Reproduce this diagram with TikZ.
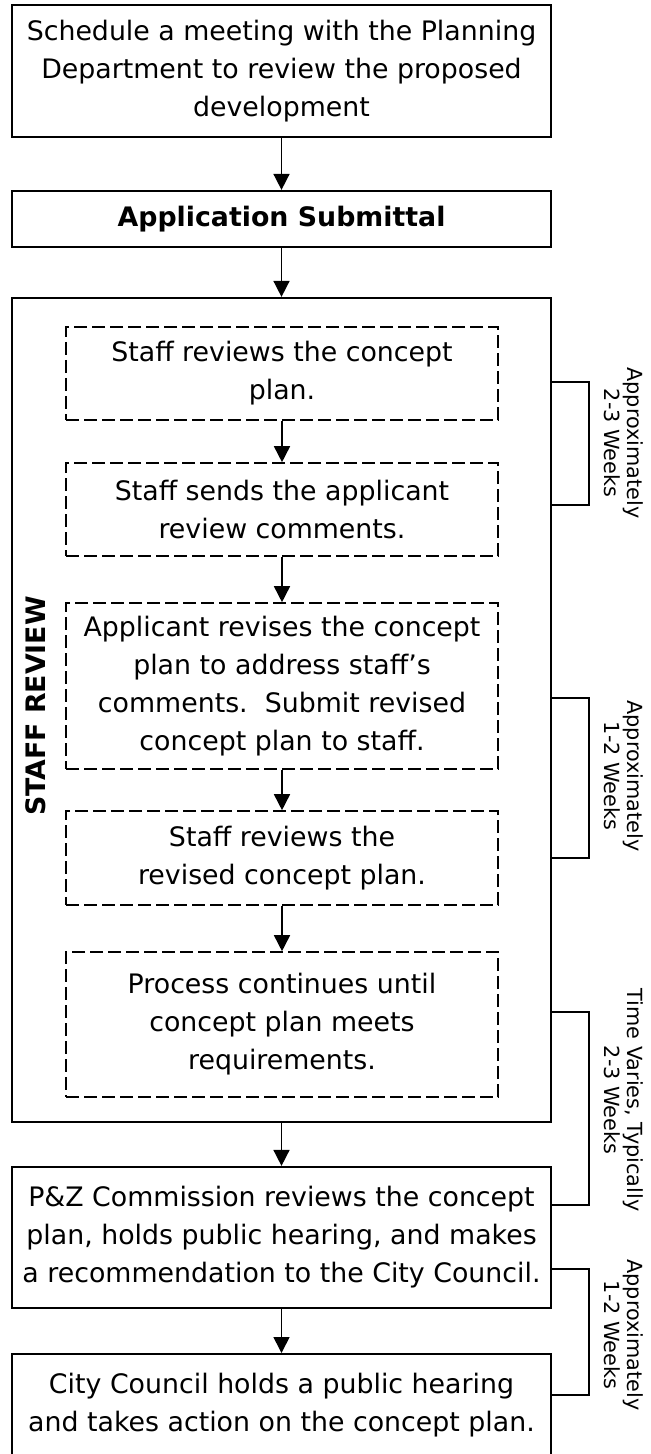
\documentclass[tikz,border=0pt]{standalone}
\usepackage{fontspec}
\setmainfont{DejaVu Sans}
\usetikzlibrary{arrows.meta}
\newcommand{\boxfont}{\fontsize{13.4}{19}\selectfont}
\newcommand{\spanfont}{\fontsize{10.4}{11.5}\selectfont}
\begin{document}
\begin{tikzpicture}[x=0.5pt, y=-0.5pt,
  stepbox/.style={draw, line width=1.1pt, align=center, minimum width=269.5pt, inner xsep=3pt, font=\boxfont},
  subbox/.style={draw, dash pattern=on 6.5pt off 2.5pt, line width=0.8pt, align=center, minimum width=216pt, font=\boxfont},
  flow/.style={-{Triangle[width=8pt,length=8pt]}, line width=0.8pt},
  bracket/.style={line width=1pt},
  span/.style={rotate=-90, align=center, font=\spanfont}]
\useasboundingbox (0,0) rectangle (650,1454);
\clip (0,0) rectangle (650,1454);

\node (plan) [stepbox, minimum height=66pt] at (281.5,71) {Schedule a meeting with the Planning\\Department to review the proposed\\development};
\node (submit) [stepbox, minimum height=28pt, font=\boxfont\bfseries] at (281.5,219) {Application Submittal};
\node (staff) [stepbox, minimum height=412pt] at (281.5,710) {};
\node (title) [rotate=90, font=\boxfont\bfseries] at (36,706) {STAFF REVIEW};
\node (d1) [subbox, minimum height=46.5pt] at (282,373.5) {Staff reviews the concept\\plan.};
\node (d2) [subbox, minimum height=46.5pt] at (282,509.5) {Staff sends the applicant\\review comments.};
\node (d3) [subbox, minimum height=83pt] at (282,686) {Applicant revises the concept\\plan to address staff’s\\comments.\ \ Submit revised\\concept plan to staff.};
\node (d4) [subbox, minimum height=47pt] at (282,858) {Staff reviews the\\revised concept plan.};
\node (d5) [subbox, minimum height=72.5pt] at (282,1024.5) {Process continues until\\concept plan meets\\requirements.};
\node (pz) [stepbox, minimum height=70.5pt] at (281.5,1237.5) {P\&Z Commission reviews the concept\\plan, holds public hearing, and makes\\a recommendation to the City Council.};
\node (cc) [stepbox, anchor=north, inner ysep=9.5pt, text depth=40pt] at (281.5,1353) {City Council holds a public hearing\\and takes action on the concept plan.};

\draw [flow] (plan) -- (submit);
\draw [flow] (submit) -- (staff);
\draw [flow] (d1.south) -- (d2.north);
\draw [flow] (d2.south) -- (d3.north);
\draw [flow] (d3.south) -- (d4.north);
\draw [flow] (d4.south) -- (d5.north);
\draw [flow] (staff.south) -- (pz.north);
\draw [flow] (pz.south) -- (cc.north);

\coordinate (b1t) at (589,382);
\coordinate (b1b) at (589,505);
\coordinate (b2t) at (589,698);
\coordinate (b2b) at (589,858);
\coordinate (b3t) at (589,1012);
\coordinate (b3b) at (589,1205);
\coordinate (b4t) at (589,1269);
\coordinate (b4b) at (589,1395);
\draw [bracket] (staff.east |- b1t) -- (b1t) -- (b1b) -- (staff.east |- b1b);
\draw [bracket] (staff.east |- b2t) -- (b2t) -- (b2b) -- (staff.east |- b2b);
\draw [bracket] (staff.east |- b3t) -- (b3t) -- (b3b) -- (pz.east |- b3b);
\draw [bracket] (pz.east |- b4t) -- (b4t) -- (b4b) -- (cc.east |- b4b);

\node (t1) [span] at (624,443) {Approximately\\2-3 Weeks};
\node (t2) [span] at (624,776) {Approximately\\1-2 Weeks};
\node (t3) [span] at (624,1100) {Time Varies, Typically\\2-3 Weeks};
\node (t4) [span] at (624,1335) {Approximately\\1-2 Weeks};
\end{tikzpicture}
\end{document}
